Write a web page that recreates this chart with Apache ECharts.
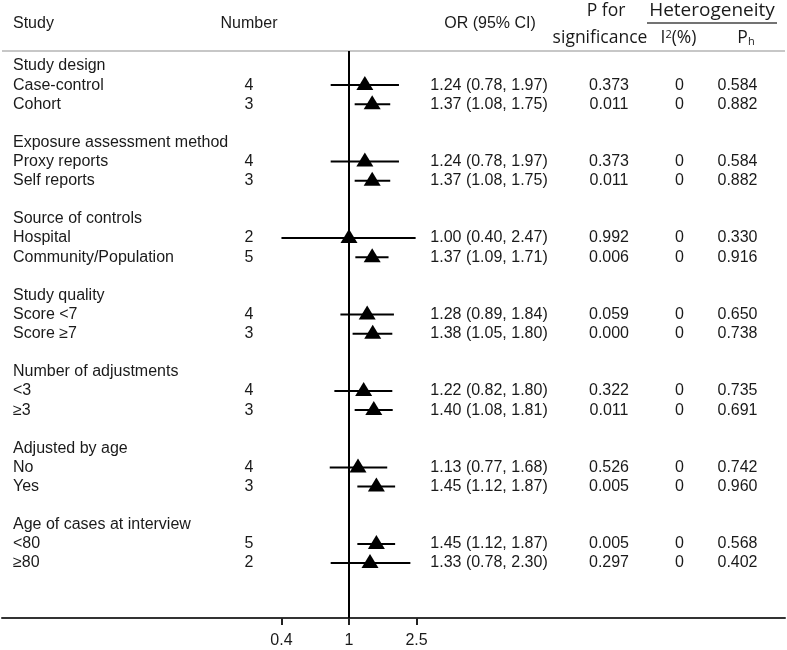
<!DOCTYPE html>
<html>
<head>
<meta charset="utf-8">
<style>
  html, body { margin: 0; padding: 0; background: #fff; }
  #forest { width: 787px; height: 650px; }
</style>
<script src="https://cdn.jsdelivr.net/npm/echarts@6.0.0/dist/echarts.min.js"></script>
</head>
<body>
<div id="forest"></div>
<script>
var groups = ['Study design', 'Exposure assessment method', 'Source of controls', 'Study quality',
  'Number of adjustments', 'Adjusted by age', 'Age of cases at interview'];
var subgroups = ['Case-control', 'Cohort', 'Proxy reports', 'Self reports', 'Hospital', 'Community/Population',
  'Score <7', 'Score \u22657', '<3', '\u22653', 'No', 'Yes', '<80', '\u226580'];
var numbers = [4, 3, 4, 3, 2, 5, 4, 3, 4, 3, 4, 3, 5, 2];
var orValues = [1.24, 1.37, 1.24, 1.37, 1.00, 1.37, 1.28, 1.38, 1.22, 1.40, 1.13, 1.45, 1.45, 1.33];
var ciLower = [0.78, 1.08, 0.78, 1.08, 0.40, 1.09, 0.89, 1.05, 0.82, 1.08, 0.77, 1.12, 1.12, 0.78];
var ciUpper = [1.97, 1.75, 1.97, 1.75, 2.47, 1.71, 1.84, 1.80, 1.80, 1.81, 1.68, 1.87, 1.87, 2.30];
var pSignificance = ['0.373', '0.011', '0.373', '0.011', '0.992', '0.006', '0.059', '0.000', '0.322', '0.011',
  '0.526', '0.005', '0.005', '0.297'];
var iSquared = [0, 0, 0, 0, 0, 0, 0, 0, 0, 0, 0, 0, 0, 0];
var pHeterogeneity = ['0.584', '0.882', '0.584', '0.882', '0.330', '0.916', '0.650', '0.738', '0.735', '0.691',
  '0.742', '0.960', '0.568', '0.402'];
var xTicks = [0.4, 1, 2.5];

// each group: header row, two subgroup rows, one empty row
var textRows = [];
var ciData = [];
var pointData = [];
groups.forEach(function (g, gi) {
  var k = gi * 4;
  textRows.push({row: k, label: g, sub: -1});
  for (var j = 0; j < 2; j++) {
    var s = gi * 2 + j;
    textRows.push({row: k + 1 + j, label: subgroups[s], sub: s});
    ciData.push([ciLower[s], ciUpper[s], k + 1 + j]);
    pointData.push([orValues[s], k + 1 + j]);
  }
});

var dataFont = '16px "Liberation Sans", Arial, sans-serif';
var headFont = '17.5px "Open Sans", sans-serif';
var ink = '#1a1a1a';

function cell(x, y, str, align) {
  return {
    type: 'text',
    style: {x: x, y: y, text: str, align: align, verticalAlign: 'middle', fill: ink, font: dataFont}
  };
}

function headText(x, y, str, align, font, rich) {
  var el = {
    type: 'text',
    silent: true,
    style: {x: x, y: y, text: str, align: align, verticalAlign: 'middle', fill: ink, font: font}
  };
  if (rich) el.style.rich = rich;
  return el;
}

var chart = echarts.init(document.getElementById('forest'));

var option = {
  animation: false,
  grid: {left: 2, right: 2, top: 51, bottom: 32},
  xAxis: {
    type: 'log',
    logBase: 10,
    min: 0.00902,
    max: 371,
    axisLine: {onZero: false, lineStyle: {color: '#333', width: 2}},
    axisTick: {customValues: xTicks, length: 7, lineStyle: {color: '#222', width: 2}},
    axisLabel: {
      customValues: xTicks,
      fontSize: 16,
      fontFamily: '"Liberation Sans", Arial, sans-serif',
      color: ink,
      margin: 15,
      formatter: function (v) { return String(+Number(v).toPrecision(2)); }
    },
    splitLine: {show: false}
  },
  yAxis: {
    type: 'value',
    inverse: true,
    min: -0.785,
    max: 28.875,
    show: false
  },
  series: [
    {
      type: 'custom',
      name: 'text',
      data: textRows.map(function (r) { return [1, r.row]; }),
      encode: {x: 0, y: 1},
      silent: true,
      renderItem: function (params, api) {
        var r = textRows[params.dataIndex];
        var y = api.coord([1, r.row])[1];
        var kids = [cell(13, y, r.label, 'left')];
        if (r.sub >= 0) {
          var s = r.sub;
          kids.push(cell(249, y, String(numbers[s]), 'center'));
          kids.push(cell(489, y, orValues[s].toFixed(2) + ' (' + ciLower[s].toFixed(2) + ', ' +
            ciUpper[s].toFixed(2) + ')', 'center'));
          kids.push(cell(609, y, pSignificance[s], 'center'));
          kids.push(cell(679.5, y, String(iSquared[s]), 'center'));
          kids.push(cell(737.5, y, pHeterogeneity[s], 'center'));
        }
        return {type: 'group', children: kids};
      }
    },
    {
      type: 'custom',
      name: 'CI',
      data: ciData,
      encode: {x: [0, 1], y: 2},
      silent: true,
      renderItem: function (params, api) {
        var y = api.value(2);
        var a = api.coord([api.value(0), y]);
        var b = api.coord([api.value(1), y]);
        return {
          type: 'line',
          shape: {x1: a[0], y1: a[1], x2: b[0], y2: b[1]},
          style: {stroke: '#000', lineWidth: 2}
        };
      }
    },
    {
      type: 'scatter',
      name: 'OR',
      data: pointData,
      symbol: 'triangle',
      symbolSize: [17, 14],
      symbolOffset: [0, -2],
      itemStyle: {color: '#000', opacity: 1},
      z: 5,
      markLine: {
        silent: true,
        symbol: ['none', 'none'],
        label: {show: false},
        lineStyle: {color: '#000', width: 2, type: 'solid'},
        data: [{xAxis: 1}]
      }
    }
  ],
  graphic: [
    headText(13, 24, 'Study', 'left', dataFont),
    headText(249, 24, 'Number', 'center', dataFont),
    headText(490, 24, 'OR (95% CI)', 'center', dataFont),
    headText(606, 11, 'P for', 'center', headFont),
    headText(600, 38, 'significance', 'center', headFont),
    headText(712, 11, 'Heterogeneity', 'center', '19px "Open Sans", sans-serif'),
    headText(678.5, 38, '{a|I}{sup|2}{a|(%)}', 'center', headFont, {
      a: {fontSize: 17.5, fontFamily: 'Open Sans', fill: ink},
      sup: {fontSize: 11, fontFamily: 'Open Sans', fill: ink, verticalAlign: 'top'}
    }),
    headText(746, 38, '{a|P}{sub|h}', 'center', headFont, {
      a: {fontSize: 17.5, fontFamily: 'Open Sans', fill: ink},
      sub: {fontSize: 11, fontFamily: 'Open Sans', fill: ink, verticalAlign: 'bottom'}
    }),
    {type: 'line', silent: true, shape: {x1: 647, y1: 23, x2: 777, y2: 23}, style: {stroke: '#444', lineWidth: 1.5}},
    {type: 'line', silent: true, shape: {x1: 2, y1: 51, x2: 785, y2: 51}, style: {stroke: '#b5b5b5', lineWidth: 1.5}}
  ]
};

chart.setOption(option);
</script>
</body>
</html>
